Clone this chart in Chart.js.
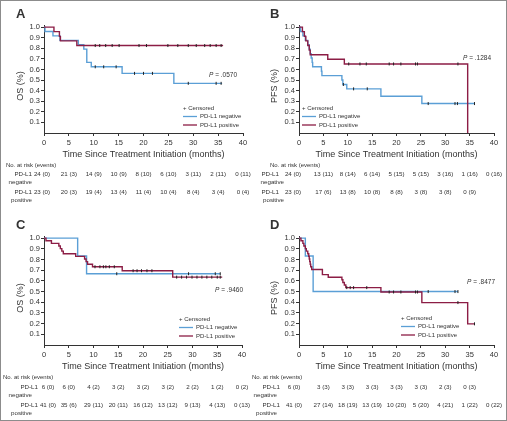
<!DOCTYPE html>
<html>
<head>
<meta charset="utf-8">
<script src="https://cdn.jsdelivr.net/npm/chart.js@4.4.0/dist/chart.umd.min.js"></script>
<style>
  html, body { margin: 0; padding: 0; background: #fff; }
  #wrap { position: relative; width: 507px; height: 421px; overflow: hidden; }
  #frame { position: absolute; left: 0; top: 0; width: 507px; height: 421px; box-sizing: border-box; border: 1px solid #8c8c8c; pointer-events: none; }
  canvas { position: absolute; }
</style>
</head>
<body>
<div id="wrap">
  <canvas id="chartA" width="256" height="210" style="left:0;top:0;width:256px;height:210px"></canvas>
  <canvas id="chartB" width="257" height="210" style="left:250px;top:0;width:257px;height:210px"></canvas>
  <canvas id="chartC" width="256" height="211" style="left:0;top:210px;width:256px;height:211px"></canvas>
  <canvas id="chartD" width="257" height="211" style="left:250px;top:210px;width:257px;height:211px"></canvas>
  <div id="frame"></div>
</div>
<script>
// times (months) where the at-risk table is read
const riskTimes = [0, 5, 10, 15, 20, 25, 30, 35, 40]

// A - OS, cohort 1
const aNegT = [0, 0.2, 1.8, 3.2, 6.9, 8.0, 8.6, 9.5, 15.7, 26.1]
const aNegS = [1, 0.958, 0.917, 0.875, 0.833, 0.792, 0.667, 0.625, 0.563, 0.469]
const aNegEnd = 35.8
const aNegCens = [10.3, 12.0, 14.5, 18.2, 20.0, 21.8, 29.0, 34.6, 35.6]
const aPosT = [0, 2.0, 3.1, 3.3, 6.6]
const aPosS = [1, 0.957, 0.913, 0.870, 0.826]
const aPosEnd = 36.0
const aPosCens = [10.3, 11.2, 12.4, 13.7, 15.1, 19.1, 20.6, 24.9, 26.9, 29.0, 30.6, 32.3, 33.4, 34.6, 35.6]
const aNegRisk = ['24 (0)', '21 (3)', '14 (9)', '10 (9)', '8 (10)', '6 (10)', '3 (11)', '2 (11)', '0 (11)']
const aPosRisk = ['23 (0)', '20 (3)', '19 (4)', '13 (4)', '11 (4)', '10 (4)', '8 (4)', '3 (4)', '0 (4)']

// B - PFS, cohort 1
const bNegT = [0, 0.3, 0.8, 1.3, 1.8, 2.1, 2.3, 2.5, 2.7, 2.8, 4.6, 4.7, 8.8, 9.0, 9.8, 16.8, 25.2]
const bNegS = [1, 0.958, 0.917, 0.875, 0.833, 0.792, 0.75, 0.708, 0.667, 0.625, 0.583, 0.542, 0.5, 0.458, 0.417, 0.347, 0.278]
const bNegEnd = 36.0
const bNegCens = [9.1, 11.2, 14.0, 26.5, 32.0, 32.5, 36.0]
const bPosT = [0, 0.7, 1.1, 1.4, 1.8, 2.1, 2.3, 5.9, 9.3, 34.6]
const bPosS = [1, 0.957, 0.913, 0.870, 0.826, 0.783, 0.739, 0.696, 0.652, 0]
const bPosEnd = null
const bPosCens = [10.2, 12.5, 13.8, 18.5, 19.4, 20.9, 23.9, 24.3, 32.6]
const bNegRisk = ['24 (0)', '13 (11)', '8 (14)', '6 (14)', '5 (15)', '5 (15)', '3 (16)', '1 (16)', '0 (16)']
const bPosRisk = ['23 (0)', '17 (6)', '13 (8)', '10 (8)', '8 (8)', '3 (8)', '3 (8)', '0 (9)']

// C - OS, cohort 2
const cNegT = [0, 6.8, 8.6]
const cNegS = [1, 0.833, 0.667]
const cNegEnd = 35.6
const cNegCens = [14.7, 29.2, 34.6, 35.6]
const cPosT = [0, 0.4, 1.5, 3.0, 3.3, 3.6, 3.9, 6.4, 8.2, 8.5, 8.8, 9.8, 15.8, 26.0]
const cPosS = [1, 0.976, 0.951, 0.927, 0.902, 0.878, 0.854, 0.829, 0.805, 0.780, 0.756, 0.732, 0.695, 0.635]
const cPosEnd = 36.0
const cPosCens = [10.3, 11.3, 12.0, 12.5, 13.2, 14.2, 18.0, 18.8, 19.7, 20.8, 21.8, 26.8, 27.8, 28.8, 29.9, 30.9, 31.9, 32.9, 33.9, 35.0, 35.6]
const cNegRisk = ['6 (0)', '6 (0)', '4 (2)', '3 (2)', '3 (2)', '3 (2)', '2 (2)', '1 (2)', '0 (2)']
const cPosRisk = ['41 (0)', '35 (6)', '29 (11)', '20 (11)', '16 (12)', '13 (12)', '9 (13)', '4 (13)', '0 (13)']

// D - PFS, cohort 2
const dNegT = [0, 1.3, 2.9]
const dNegS = [1, 0.833, 0.5]
const dNegEnd = 32.6
const dNegCens = [26.5, 32.0, 32.6]
const dPosT = [0, 0.4, 0.8, 1.0, 1.3, 1.5, 1.8, 2.0, 2.1, 2.2, 2.3, 2.4, 2.6, 4.8, 6.0, 8.8, 9.0, 9.3, 9.6, 16.8, 25.2, 34.6]
const dPosS = [1, 0.976, 0.951, 0.927, 0.902, 0.878, 0.854, 0.829, 0.805, 0.780, 0.756, 0.732, 0.707, 0.659, 0.634, 0.610, 0.585, 0.561, 0.537, 0.496, 0.397, 0.198]
const dPosEnd = 36.0
const dPosCens = [9.8, 10.5, 11.2, 13.9, 18.5, 19.4, 20.9, 23.9, 24.3, 32.6, 36.0]
const dNegRisk = ['6 (0)', '3 (3)', '3 (3)', '3 (3)', '3 (3)', '3 (3)', '2 (3)', '0 (3)']
const dPosRisk = ['41 (0)', '27 (14)', '18 (19)', '13 (19)', '10 (20)', '5 (20)', '4 (21)', '1 (22)', '0 (22)']

const yTicks = [0.1, 0.2, 0.3, 0.4, 0.5, 0.6, 0.7, 0.8, 0.9, 1.0]

const BLUE = '#5b9fd6'
const RED = '#8c1d45'
const INK = '#333'
const FONT = "'Liberation Sans', Arial, sans-serif"

// kaplan-meier step points, last one carried to the end of follow-up
function curve(times, surv, end) {
  const pts = times.map((t, i) => ({x: t, y: surv[i]}))
  if (end != null) pts.push({x: end, y: surv[surv.length - 1]})
  return pts
}
// value of the step function at time t (for the censor ticks)
function survAt(times, surv, t) {
  let s = surv[0]
  for (let i = 0; i < times.length; i++) if (times[i] <= t) s = surv[i]
  return s
}
function cens(times, surv, list) {
  return list.map(t => ({x: t, y: survAt(times, surv, t)}))
}

const panels = [
  {id: 'chartA', letter: 'A', yTitle: 'OS (%)', p: '.0570',
   neg: [aNegT, aNegS, aNegEnd, aNegCens], pos: [aPosT, aPosS, aPosEnd, aPosCens],
   negRisk: aNegRisk, posRisk: aPosRisk,
   geo: {w: 256, h: 210, left: 44, right: 243, top: 25, bottom: 133},
   letterX: 16, letterY: 14, yTitleX: 21, yTitleY: 86, pX: 209, pY: 75,
   legX: 183, legY: 108, tableTop: 165, headX: 6, labR: 32, subR: 32, firstShift: -2},
  {id: 'chartB', letter: 'B', yTitle: 'PFS (%)', p: '.1284',
   neg: [bNegT, bNegS, bNegEnd, bNegCens], pos: [bPosT, bPosS, bPosEnd, bPosCens],
   negRisk: bNegRisk, posRisk: bPosRisk,
   geo: {w: 257, h: 210, left: 49, right: 244, top: 25, bottom: 133},
   letterX: 20, letterY: 14, yTitleX: 25, yTitleY: 86, pX: 213, pY: 58,
   legX: 52, legY: 108, tableTop: 165, headX: 20, labR: 29, subR: 34, firstShift: -6},
  {id: 'chartC', letter: 'C', yTitle: 'OS (%)', p: '.9460',
   neg: [cNegT, cNegS, cNegEnd, cNegCens], pos: [cPosT, cPosS, cPosEnd, cPosCens],
   negRisk: cNegRisk, posRisk: cPosRisk,
   geo: {w: 256, h: 211, left: 44, right: 242, top: 26, bottom: 135},
   letterX: 16, letterY: 15, yTitleX: 21, yTitleY: 88, pX: 215, pY: 80,
   legX: 179, legY: 109, tableTop: 167.5, headX: 3, labR: 38, subR: 32, firstShift: 4},
  {id: 'chartD', letter: 'D', yTitle: 'PFS (%)', p: '.8477',
   neg: [dNegT, dNegS, dNegEnd, dNegCens], pos: [dPosT, dPosS, dPosEnd, dPosCens],
   negRisk: dNegRisk, posRisk: dPosRisk,
   geo: {w: 257, h: 211, left: 49, right: 244, top: 26, bottom: 135},
   letterX: 20, letterY: 15, yTitleX: 25, yTitleY: 88, pX: 217, pY: 72,
   legX: 151, legY: 108, tableTop: 167.5, headX: 2, labR: 30, subR: 27, firstShift: -5}
]

const X_AXIS_H = 27

function makeExtras(p) {
  return {
    id: 'extras',
    afterDraw(chart) {
      const ctx = chart.ctx
      const xs = chart.scales.x
      ctx.save()
      ctx.fillStyle = INK
      ctx.textBaseline = 'middle'

      // panel letter
      ctx.font = 'bold 13px ' + FONT
      ctx.textAlign = 'left'
      ctx.fillText(p.letter, p.letterX, p.letterY)

      // y axis title
      ctx.save()
      ctx.translate(p.yTitleX, p.yTitleY)
      ctx.rotate(-Math.PI / 2)
      ctx.textAlign = 'center'
      ctx.font = '9px ' + FONT
      ctx.fillText(p.yTitle, 0, 0)
      ctx.restore()

      // p value
      ctx.font = 'italic 6.5px ' + FONT
      ctx.textAlign = 'left'
      ctx.fillText('P', p.pX, p.pY)
      const pw = ctx.measureText('P').width
      ctx.font = '6.5px ' + FONT
      ctx.fillText(' = ' + p.p, p.pX + pw, p.pY)

      // legend
      ctx.font = '6px ' + FONT
      ctx.fillText('+ Censored', p.legX, p.legY)
      const items = [['PD-L1 negative', BLUE], ['PD-L1 positive', RED]]
      items.forEach((it, i) => {
        const y = p.legY + 8.5 + i * 8.5
        ctx.strokeStyle = it[1]
        ctx.lineWidth = 1.3
        ctx.beginPath()
        ctx.moveTo(p.legX, y)
        ctx.lineTo(p.legX + 14, y)
        ctx.stroke()
        ctx.fillText(it[0], p.legX + 17, y)
      })

      // number at risk table
      const t0 = p.tableTop
      ctx.font = '6px ' + FONT
      ctx.textAlign = 'left'
      ctx.fillText('No. at risk (events)', p.headX, t0)
      ctx.font = '6.2px ' + FONT
      const rows = [[p.negRisk, 'negative', 9.5], [p.posRisk, 'positive', 27.5]]
      rows.forEach(r => {
        ctx.textAlign = 'right'
        ctx.fillText('PD-L1', p.labR, t0 + r[2])
        ctx.fillText(r[1], p.subR, t0 + r[2] + 8)
        ctx.textAlign = 'center'
        r[0].forEach((txt, i) => {
          const x = xs.getPixelForValue(riskTimes[i]) + (i === 0 ? p.firstShift : 0)
          ctx.fillText(txt, x, t0 + r[2])
        })
      })
      ctx.restore()
    }
  }
}

panels.forEach(p => {
  const g = p.geo
  const ctx = document.getElementById(p.id).getContext('2d')
  new Chart(ctx, {
    type: 'line',
    data: {
      datasets: [
        {data: curve(p.neg[0], p.neg[1], p.neg[2]), borderColor: BLUE, borderWidth: 1.4, stepped: true, pointRadius: 0, order: 2},
        {data: curve(p.pos[0], p.pos[1], p.pos[2]), borderColor: RED, borderWidth: 1.4, stepped: true, pointRadius: 0, order: 1},
        {data: cens(p.neg[0], p.neg[1], p.neg[3]), showLine: false, pointStyle: 'line', rotation: 90, pointRadius: 1.5, borderColor: '#222', borderWidth: 1, order: 0},
        {data: cens(p.pos[0], p.pos[1], p.pos[3]), showLine: false, pointStyle: 'line', rotation: 90, pointRadius: 1.5, borderColor: '#222', borderWidth: 1, order: 0}
      ]
    },
    options: {
      responsive: false,
      animation: false,
      devicePixelRatio: 1,
      events: [],
      layout: {padding: {left: 0, top: g.top, right: g.w - g.right, bottom: g.h - g.bottom - X_AXIS_H}},
      plugins: {legend: {display: false}, tooltip: {enabled: false}},
      scales: {
        x: {
          type: 'linear', min: 0, max: 40,
          afterFit: s => { s.height = X_AXIS_H },
          ticks: {stepSize: 5, color: INK, font: {family: FONT, size: 7.5}, padding: 2, maxRotation: 0},
          grid: {drawOnChartArea: false, drawTicks: true, tickLength: 3, color: INK},
          border: {display: true, color: INK, width: 1},
          title: {display: true, text: 'Time Since Treatment Initiation (months)', color: INK,
                  font: {family: FONT, size: 9}, padding: {top: 0, bottom: 0}}
        },
        y: {
          min: 0, max: 1.02,
          afterFit: s => { s.width = g.left },
          afterBuildTicks: s => { s.ticks = yTicks.map(v => ({value: v})) },
          ticks: {color: INK, font: {family: FONT, size: 7.5}, padding: 1, callback: v => v.toFixed(1)},
          grid: {drawOnChartArea: false, drawTicks: true, tickLength: 3, color: INK},
          border: {display: true, color: INK, width: 1}
        }
      }
    },
    plugins: [makeExtras(p)]
  })
})
</script>
</body>
</html>
